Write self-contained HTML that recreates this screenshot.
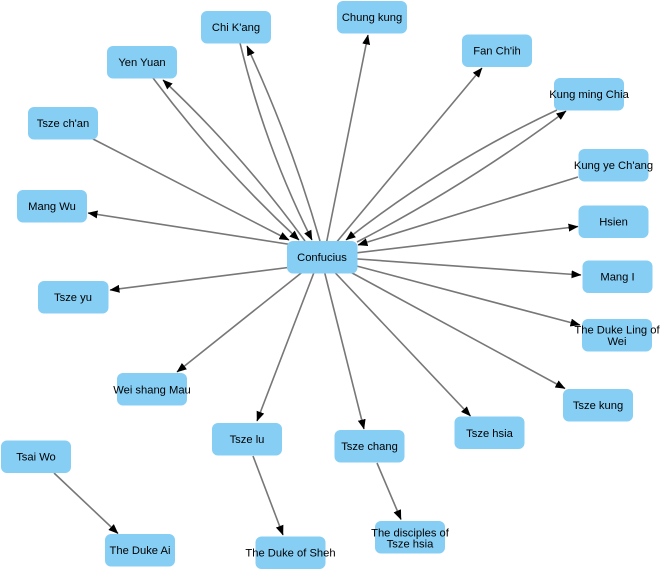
<!DOCTYPE html>
<html>
<head>
<meta charset="utf-8">
<style>
  html, body { margin: 0; padding: 0; background: #ffffff; }
  svg { display: block; }
  text { font-family: "Liberation Sans", Arial, sans-serif; font-size: 11.2px; fill: #000; text-anchor: middle; }
  .n { fill: #87CEF5; }
  .e { stroke: #777777; stroke-width: 1.6; fill: none; marker-end: url(#ah); }
</style>
</head>
<body>
<svg width="665" height="571" viewBox="0 0 665 571" xmlns="http://www.w3.org/2000/svg">
  <defs>
    <marker id="ah" markerUnits="userSpaceOnUse" markerWidth="10" markerHeight="8" refX="9.5" refY="4" orient="auto">
      <path d="M0,0 L10,4 L0,8 z" fill="#000"/>
    </marker>
  </defs>

  <!-- edges -->
  <path class="e" d="M320,241 Q291,140.7 247,46"/>
  <path class="e" d="M240,43 Q264.7,145.6 312,240"/>
  <path class="e" d="M305,241 Q241.5,153.9 163,80"/>
  <path class="e" d="M153,78 Q218.6,165.7 299,240"/>
  <path class="e" d="M93,139 L289,240"/>
  <path class="e" d="M300,246 L88,213"/>
  <path class="e" d="M300,266 L110,290"/>
  <path class="e" d="M325,250 L368,35"/>
  <path class="e" d="M330,250 L482,68"/>
  <path class="e" d="M557,110 Q444,163 346,240"/>
  <path class="e" d="M357,242 Q466.8,185 566,111"/>
  <path class="e" d="M578,177 L358,245"/>
  <path class="e" d="M330,256 L578,226.5"/>
  <path class="e" d="M330,257 L581,275"/>
  <path class="e" d="M330,259 L580,325"/>
  <path class="e" d="M330,261 L565,388.5"/>
  <path class="e" d="M325,262 L470.5,416"/>
  <path class="e" d="M322,262 L364,429"/>
  <path class="e" d="M318,262 L257,421"/>
  <path class="e" d="M310,266 L177,372"/>
  <path class="e" d="M54,473 L118,533.5"/>
  <path class="e" d="M253,456 L283,535"/>
  <path class="e" d="M377,463 L401,519.5"/>

  <!-- nodes -->
  <rect class="n" x="201" y="11" width="70" height="32.5" rx="6"/>
  <text x="236" y="31">Chi K'ang</text>

  <rect class="n" x="107" y="46" width="70" height="32.5" rx="6"/>
  <text x="142" y="66">Yen Yuan</text>

  <rect class="n" x="28" y="107" width="70" height="32.5" rx="6"/>
  <text x="63" y="127">Tsze ch'an</text>

  <rect class="n" x="17" y="190" width="70" height="32.5" rx="6"/>
  <text x="52" y="210">Mang Wu</text>

  <rect class="n" x="287" y="241" width="70.5" height="32.5" rx="6"/>
  <text x="322" y="261">Confucius</text>

  <rect class="n" x="38" y="281" width="70.5" height="32.5" rx="6"/>
  <text x="73" y="301">Tsze yu</text>

  <rect class="n" x="117" y="373" width="70" height="32.5" rx="6"/>
  <text x="152" y="393.5">Wei shang Mau</text>

  <rect class="n" x="212" y="423" width="70" height="32.5" rx="6"/>
  <text x="247" y="443">Tsze lu</text>

  <rect class="n" x="1" y="440.5" width="70" height="32.5" rx="6"/>
  <text x="36" y="460.5">Tsai Wo</text>

  <rect class="n" x="105" y="534" width="70" height="32.5" rx="6"/>
  <text x="140" y="554">The Duke Ai</text>

  <rect class="n" x="255.5" y="536.5" width="70" height="32.5" rx="6"/>
  <text x="290.5" y="556.5">The Duke of Sheh</text>

  <rect class="n" x="337" y="1" width="70" height="32.5" rx="6"/>
  <text x="372" y="21">Chung kung</text>

  <rect class="n" x="462" y="34.5" width="70" height="32.5" rx="6"/>
  <text x="497" y="54.5">Fan Ch'ih</text>

  <rect class="n" x="554" y="78" width="70" height="32.5" rx="6"/>
  <text x="589" y="98">Kung ming Chia</text>

  <rect class="n" x="578.5" y="149" width="70" height="32.5" rx="6"/>
  <text x="613.5" y="169">Kung ye Ch'ang</text>

  <rect class="n" x="578.5" y="205.5" width="70" height="32.5" rx="6"/>
  <text x="613.5" y="225.5">Hsien</text>

  <rect class="n" x="582.5" y="260.5" width="70" height="32.5" rx="6"/>
  <text x="617.5" y="280.5">Mang I</text>

  <rect class="n" x="582" y="319" width="70" height="32.5" rx="6"/>
  <text x="617" y="333.3">The Duke Ling of</text>
  <text x="617" y="345">Wei</text>

  <rect class="n" x="563" y="389" width="70" height="32.5" rx="6"/>
  <text x="598" y="409">Tsze kung</text>

  <rect class="n" x="454.5" y="416.5" width="70" height="32.5" rx="6"/>
  <text x="489.5" y="436.8">Tsze hsia</text>

  <rect class="n" x="334.5" y="430" width="70" height="32.5" rx="6"/>
  <text x="369.5" y="450">Tsze chang</text>

  <rect class="n" x="375" y="521" width="70" height="32.5" rx="6"/>
  <text x="410" y="536.3">The disciples of</text>
  <text x="410" y="547.5">Tsze hsia</text>
</svg>
</body>
</html>
